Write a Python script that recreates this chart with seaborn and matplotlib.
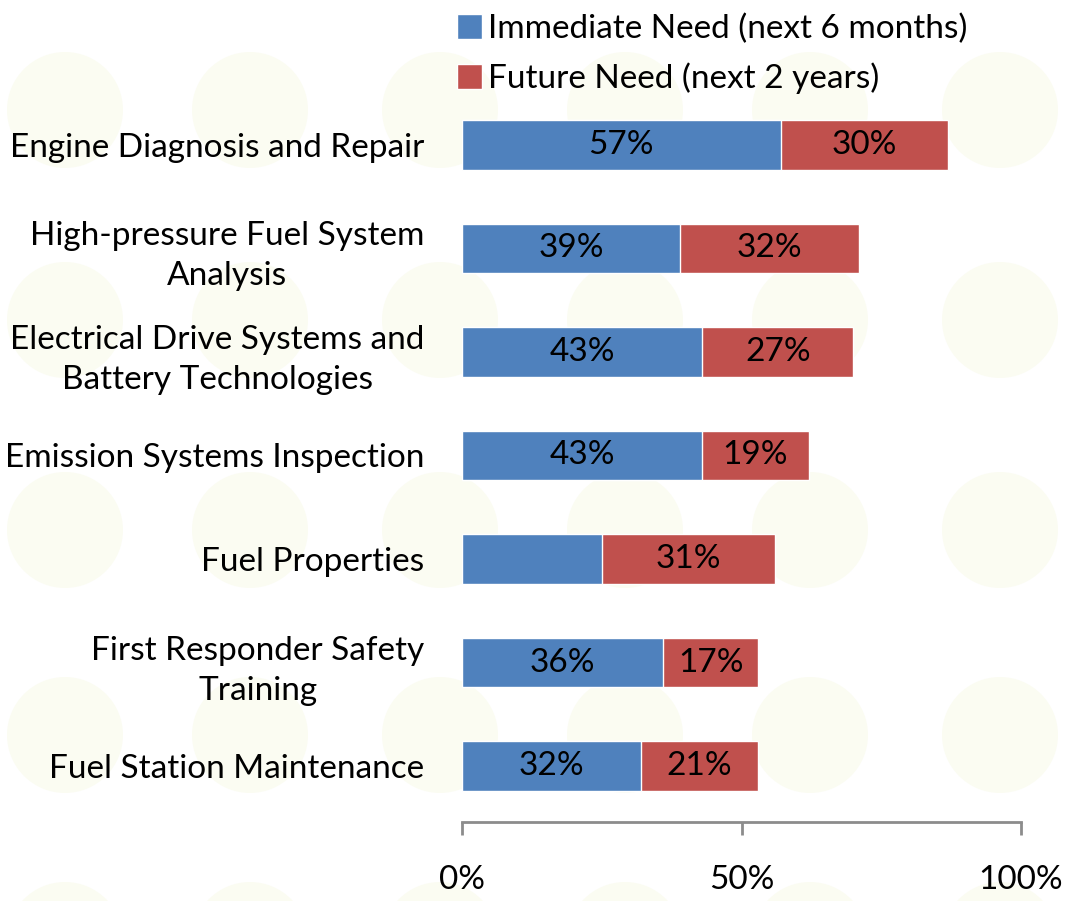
import matplotlib
matplotlib.use("Agg")
import matplotlib.pyplot as plt
from matplotlib.patches import Ellipse
import seaborn as sns
import pandas as pd

categories = [
    "Engine Diagnosis and Repair",
    "High-pressure Fuel System\nAnalysis",
    "Electrical Drive Systems and\nBattery Technologies",
    "Emission Systems Inspection",
    "Fuel Properties",
    "First Responder Safety\nTraining",
    "Fuel Station Maintenance",
]
immediate = [57, 39, 43, 43, 25, 36, 32]
future = [30, 32, 27, 19, 31, 17, 21]
immediate_labels = ["57%", "39%", "43%", "43%", "", "36%", "32%"]
future_labels = ["30%", "32%", "27%", "19%", "31%", "17%", "21%"]
series_names = ["Immediate Need (next 6 months)", "Future Need (next 2 years)"]
x_ticks = [0, 50, 100]
x_ticklabels = ["0%", "50%", "100%"]

BLUE = "#4F81BD"
RED = "#C0504D"
FS = 24

sns.set_theme(style="white")
plt.rcParams["font.family"] = ["Lato", "DejaVu Sans"]
plt.rcParams["text.color"] = "black"
plt.rcParams["xtick.color"] = "black"
plt.rcParams["ytick.color"] = "black"

df = pd.DataFrame({
    "category": categories,
    "immediate": immediate,
    "total": [a + b for a, b in zip(immediate, future)],
})

W, H = 1067, 901
fig = plt.figure(figsize=(W / 100, H / 100), dpi=100)

# faint decorative background dots
bg = fig.add_axes([0, 0, 1, 1], zorder=0)
bg.set_xlim(0, W)
bg.set_ylim(H, 0)
bg.axis("off")
for cy in [110, 320, 530, 735, 940]:
    for cx in [65, 250, 440, 625, 810, 1000]:
        bg.add_patch(Ellipse((cx, cy), 116, 116, facecolor="#fbfcf2", edgecolor="none"))

ax = fig.add_axes([0.433, 0.0877, 0.524, 0.809], zorder=1)
ax.patch.set_alpha(0)

sns.barplot(data=df, x="total", y="category", color=RED, width=0.48,
            saturation=1, ax=ax, label=series_names[1])
sns.barplot(data=df, x="immediate", y="category", color=BLUE, width=0.48,
            saturation=1, ax=ax, label=series_names[0])

red_c, blue_c = ax.containers[0], ax.containers[1]
ax.bar_label(blue_c, labels=immediate_labels, label_type="center", fontsize=FS, color="black")
for rb, bb, lab in zip(red_c, blue_c, future_labels):
    x0 = bb.get_width()
    x1 = rb.get_width()
    yc = rb.get_y() + rb.get_height() / 2
    ax.text((x0 + x1) / 2, yc, lab, ha="center", va="center", fontsize=FS, color="black")

ax.set_xlim(0, 100)
ax.set_ylim(6.54, -0.5)
ax.set_xticks(x_ticks)
ax.set_xticklabels(x_ticklabels, fontsize=FS)
ax.set_xlabel("")
ax.set_ylabel("")
ax.tick_params(axis="x", direction="out", length=9, width=2, color="#8c8c8c", pad=22, bottom=True)
ax.tick_params(axis="y", length=0, pad=27, labelsize=FS)
for lab in ax.get_yticklabels():
    lab.set_multialignment("center")
    lab.set_linespacing(1.42)
for s in ["top", "right", "left"]:
    ax.spines[s].set_visible(False)
ax.spines["bottom"].set_color("#8c8c8c")
ax.spines["bottom"].set_linewidth(2)

handles, labels = ax.get_legend_handles_labels()
order = [labels.index(series_names[0]), labels.index(series_names[1])]
leg = fig.legend([handles[i] for i in order], [labels[i] for i in order],
                 loc="upper left", bbox_to_anchor=(0.4, 1.018), frameon=False,
                 fontsize=FS, handlelength=0.75, handleheight=0.75, handletextpad=0.2,
                 labelspacing=0.55)
leg.set_zorder(2)
if ax.get_legend():
    ax.get_legend().remove()

fig.savefig("out.png", dpi=100, facecolor="white")
